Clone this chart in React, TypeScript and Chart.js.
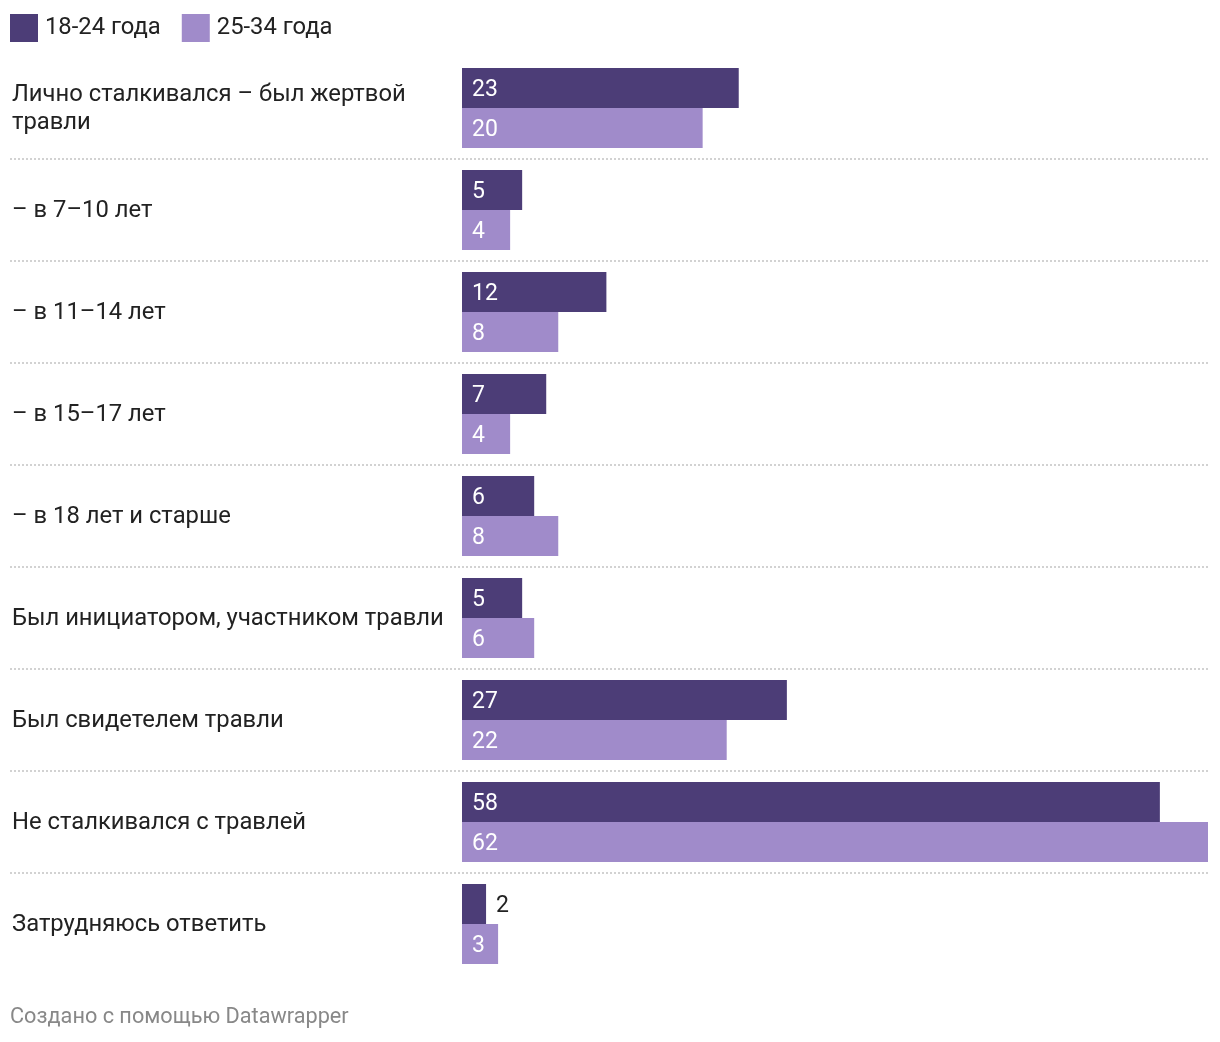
import React, { useEffect, useRef } from "react";
import { Chart, registerables } from "chart.js";

Chart.register(...registerables);

const categories: string[][] = [
  ["Лично сталкивался – был жертвой", "травли"],
  ["– в 7–10 лет"],
  ["– в 11–14 лет"],
  ["– в 15–17 лет"],
  ["– в 18 лет и старше"],
  ["Был инициатором, участником травли"],
  ["Был свидетелем травли"],
  ["Не сталкивался с травлей"],
  ["Затрудняюсь ответить"],
];
const seriesNames = ["18-24 года", "25-34 года"];
const series1824 = [23, 5, 12, 7, 6, 5, 27, 58, 2];
const series2534 = [20, 4, 8, 4, 8, 6, 22, 62, 3];
const colors = ["#4c3d77", "#a08bca"];
const footerText = "Создано с помощью Datawrapper";

const FONT = "Roboto, 'Noto Sans', sans-serif";

const overlayPlugin = {
  id: "overlay",
  beforeDatasetsDraw(chart: any) {
    const ctx = chart.ctx;
    const y = chart.scales.y;
    const n = categories.length;
    ctx.save();
    ctx.strokeStyle = "#d2d2d2";
    ctx.lineWidth = 2;
    ctx.setLineDash([2, 2]);
    for (let i = 0; i < n - 1; i++) {
      const yy = Math.round((y.getPixelForValue(i) + y.getPixelForValue(i + 1)) / 2);
      ctx.beginPath();
      ctx.moveTo(10, yy);
      ctx.lineTo(chart.chartArea.right, yy);
      ctx.stroke();
    }
    ctx.restore();
  },
  afterDatasetsDraw(chart: any) {
    const ctx = chart.ctx;
    const y = chart.scales.y;
    ctx.save();
    // legend
    ctx.font = `23.8px ${FONT}`;
    ctx.textBaseline = "middle";
    let lx = 10;
    seriesNames.forEach((name, i) => {
      ctx.fillStyle = colors[i];
      ctx.fillRect(lx, 14, 28, 28);
      ctx.fillStyle = "#222";
      ctx.textAlign = "left";
      ctx.fillText(name, lx + 35, 28);
      lx += 35 + ctx.measureText(name).width + 21;
    });
    // category labels
    categories.forEach((lines, i) => {
      const cy = y.getPixelForValue(i) + 1.5;
      const lh = 28;
      const start = cy - ((lines.length - 1) * lh) / 2;
      ctx.fillStyle = "#222";
      ctx.textAlign = "left";
      lines.forEach((l, j) => ctx.fillText(l, 12, start + j * lh));
    });
    // value labels
    ctx.font = `23px ${FONT}`;
    chart.data.datasets.forEach((ds: any, di: number) => {
      const meta = chart.getDatasetMeta(di);
      meta.data.forEach((bar: any, i: number) => {
        const txt = String(ds.data[i]);
        const w = ctx.measureText(txt).width;
        const barW = bar.x - bar.base;
        if (w + 20 > barW) {
          ctx.fillStyle = "#222";
          ctx.fillText(txt, bar.x + 10, bar.y + 2.5);
        } else {
          ctx.fillStyle = "#ffffff";
          ctx.fillText(txt, bar.base + 10, bar.y + 2.5);
        }
      });
    });
    // footer
    ctx.font = `21.7px ${FONT}`;
    ctx.fillStyle = "#888888";
    ctx.fillText(footerText, 10, 1018);
    ctx.restore();
  },
};

export default function App() {
  const ref = useRef<HTMLCanvasElement>(null);
  useEffect(() => {
    const chart = new Chart(ref.current!, {
      type: "bar",
      data: {
        labels: categories.map((c) => c.join(" ")),
        datasets: [
          {
            label: seriesNames[0],
            data: series1824,
            backgroundColor: colors[0],
            categoryPercentage: 80 / 102,
            barPercentage: 1,
          },
          {
            label: seriesNames[1],
            data: series2534,
            backgroundColor: colors[1],
            categoryPercentage: 80 / 102,
            barPercentage: 1,
          },
        ],
      },
      options: {
        indexAxis: "y",
        animation: false,
        responsive: false,
        layout: { padding: { left: 462, right: 12, top: 57, bottom: 67 } },
        scales: {
          x: { display: false, min: 0, max: 62 },
          y: { display: false },
        },
        plugins: { legend: { display: false }, tooltip: { enabled: false } },
      },
      plugins: [overlayPlugin],
    });
    return () => chart.destroy();
  }, []);
  return (
    <div style={{ position: "absolute", left: 0, top: 0, width: 1220, height: 1042, background: "#fff" }}>
      <canvas ref={ref} width={1220} height={1042} />
    </div>
  );
}
